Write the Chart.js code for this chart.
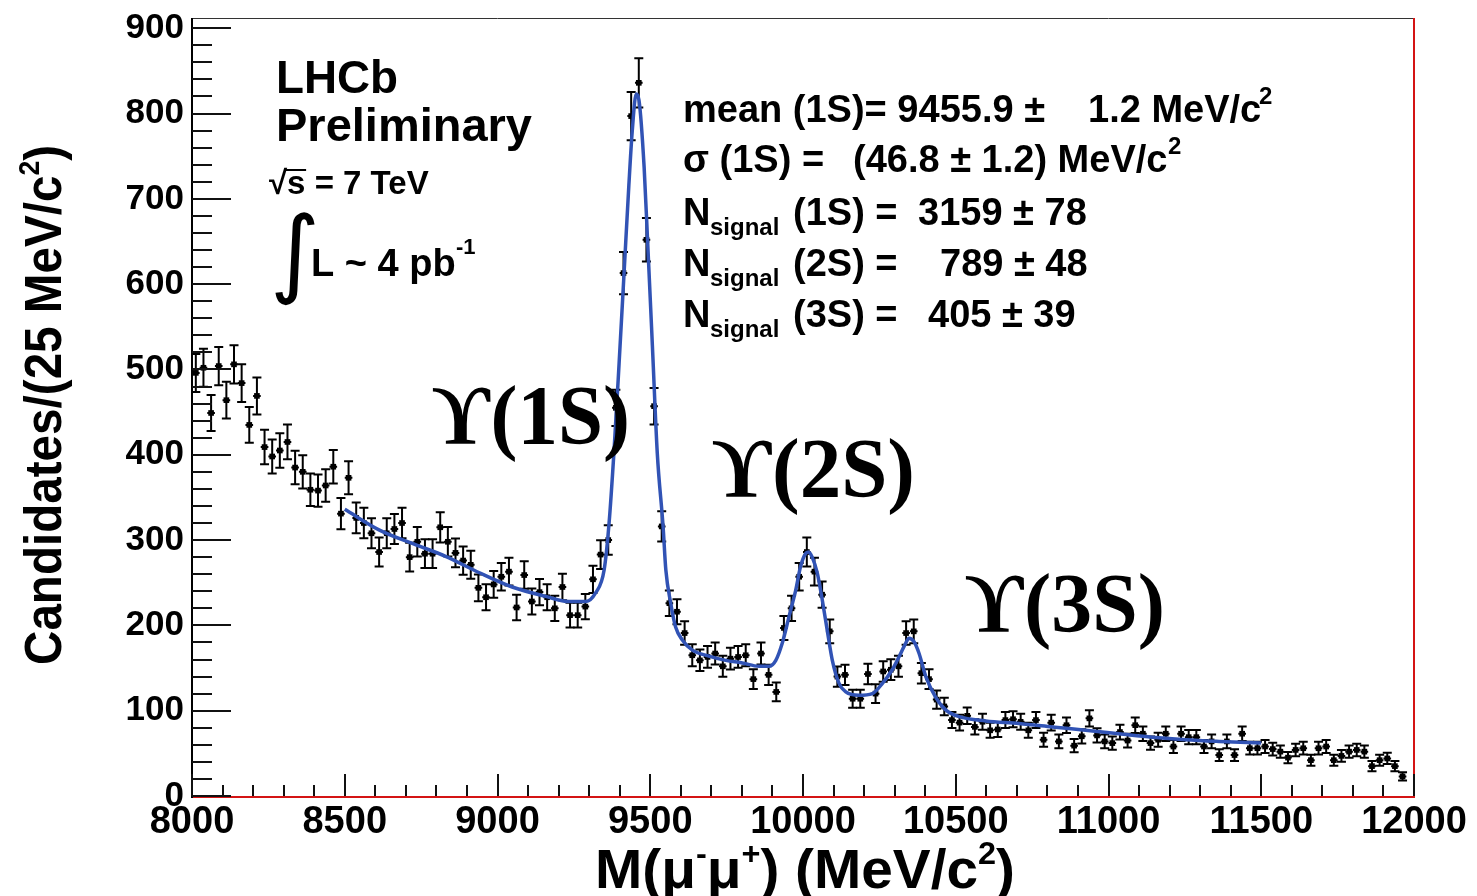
<!DOCTYPE html>
<html><head><meta charset="utf-8">
<script src="https://cdn.jsdelivr.net/npm/chart.js@4.4.1/dist/chart.umd.min.js"></script>
<style>html,body{margin:0;padding:0;background:#fff;}canvas{display:block;}</style>
</head><body>
<canvas id="c" width="1477" height="896"></canvas>
<script>
// ---- data ----
const BIN_START = 8000;
const BIN_WIDTH = 25;
// candidates per 25 MeV bin, bins from 8000 to 12000 MeV
const counts = [
 496,502,449,504,464,506,484,435,469,409,
 398,405,415,385,380,359,358,364,386,331,
 373,326,320,308,286,308,313,320,280,298,
 284,284,315,298,285,276,271,244,233,248,
 257,263,221,259,228,239,233,220,245,212,
 212,222,254,283,300,455,613,797,836,652,
 457,316,226,216,191,165,159,163,167,152,
 161,163,165,137,167,142,122,197,220,257,
 286,263,236,193,140,142,114,114,143,120,
 146,148,152,191,193,144,137,113,105,89,
 86,94,81,87,77,78,89,90,87,77,
 89,66,86,64,83,59,70,91,71,64,
 62,75,65,83,73,62,66,73,58,73,
 69,69,58,64,48,64,48,73,56,56,
 58,55,52,45,54,56,42,56,58,42,
 47,52,54,52,35,42,44,35,23,null
];
const binCenters = counts.map((_, i) => BIN_START + BIN_WIDTH * (i + 0.5));

// fitted curve, read at selected masses
const fitMass = [8500,8612,8721,8830,8939,9048,9158,9234,9289,9321,9349,9365,9381,9398,9414,9430,9441,9454,9463,9480,9491,9507,9523,9542,9551,9567,9583,9605,9638,9692,9747,9801,9856,9889,9911,9932,9954,9976,9992,10008,10018,10030,10047,10063,10079,10096,10118,10140,10183,10227,10260,10292,10314,10336,10347,10363,10380,10402,10434,10467,10511,10598,10707,10816,10925,11034,11143,11253,11362,11500];
const fitValue = [336,312,296,281,262,245,234,228,228,238,265,319,402,507,611,716,779,823,816,737,653,528,402,316,265,226,198,183,171,164,159,156,152,152,159,179,210,241,269,284,286,280,261,230,195,159,132,122,118,120,132,148,163,179,185,181,167,140,116,101,93,88,85,81,77,73,69,66,64,62];

const xTickLabels = [8000,8500,9000,9500,10000,10500,11000,11500,12000];
const yTickLabels = [0,100,200,300,400,500,600,700,800,900];

const SANS = '"Liberation Sans",Arial,Helvetica,sans-serif';
const SERIF = '"Liberation Serif","DejaVu Serif","Times New Roman",serif';

function rich(ctx, segs, x, y, target) {
  let w = 0;
  const ws = segs.map(s => { ctx.font = s[1]; const m = ctx.measureText(s[0]).width; w += m; return m; });
  const k = target ? target / w : 1;
  ctx.save(); ctx.translate(x, y); ctx.scale(k, 1);
  let cx = 0;
  segs.forEach((s, i) => { ctx.font = s[1]; ctx.fillText(s[0], cx, s[2] || 0); cx += ws[i]; });
  ctx.restore();
}

const decor = {
  id: 'decor',
  beforeDatasetsDraw(chart) {
    const ctx = chart.ctx, xs = chart.scales.x, ys = chart.scales.y;
    ctx.save();
    ctx.strokeStyle = '#000'; ctx.lineWidth = 2;
    binCenters.forEach((m, i) => {
      const v = counts[i]; if (v == null) return;
      const e = Math.sqrt(v);
      const px = xs.getPixelForValue(m);
      const py = ys.getPixelForValue(v);
      const pt = ys.getPixelForValue(v + e), pb = ys.getPixelForValue(v - e);
      const pl = xs.getPixelForValue(m - BIN_WIDTH / 2), pr = xs.getPixelForValue(m + BIN_WIDTH / 2);
      ctx.beginPath();
      ctx.moveTo(px, pt); ctx.lineTo(px, pb);
      ctx.moveTo(px - 4.5, pt); ctx.lineTo(px + 4.5, pt);
      ctx.moveTo(px - 4.5, pb); ctx.lineTo(px + 4.5, pb);
      ctx.moveTo(pl, py); ctx.lineTo(pr, py);
      ctx.stroke();
    });
    ctx.restore();
  },
  afterDatasetsDraw(chart) {
    const ctx = chart.ctx, xs = chart.scales.x, ys = chart.scales.y;
    const { left, right, top, bottom } = chart.chartArea;
    ctx.save();
    ctx.lineWidth = 1; ctx.strokeStyle = '#333';
    ctx.beginPath(); ctx.moveTo(left, top + 0.5); ctx.lineTo(right, top + 0.5); ctx.stroke();
    ctx.lineWidth = 2; ctx.strokeStyle = '#d41414';
    ctx.beginPath(); ctx.moveTo(right, top); ctx.lineTo(right, bottom + 1); ctx.lineTo(left, bottom + 1); ctx.stroke();
    ctx.strokeStyle = '#000';
    ctx.beginPath(); ctx.moveTo(left, top); ctx.lineTo(left, bottom + 2); ctx.stroke();
    ctx.lineWidth = 2; ctx.strokeStyle = '#111';
    ctx.beginPath();
    for (let v = 0; v <= 900; v += 20) {
      const py = Math.round(ys.getPixelForValue(v));
      const len = (v % 100 === 0) ? 39 : 20;
      ctx.moveTo(left, py); ctx.lineTo(left + len, py);
    }
    for (let m = 8000; m <= 12000; m += 100) {
      const px = Math.round(xs.getPixelForValue(m));
      const len = (m % 500 === 0) ? 22 : 11;
      ctx.moveTo(px, bottom); ctx.lineTo(px, bottom - len);
    }
    ctx.stroke();
    ctx.restore();
  },
  afterDraw(chart) {
    const ctx = chart.ctx;
    ctx.save();
    ctx.fillStyle = '#000';
    ctx.textBaseline = 'alphabetic'; ctx.textAlign = 'left';
    // axis titles
    const ft = 'bold 56px ' + SANS, fs = 'bold 32px ' + SANS;
    rich(ctx, [['M(\u03bc', ft], ['-', fs, -24], ['\u03bc', ft], ['+', fs, -24], [') (MeV/c', ft], ['2', fs, -24], [')', ft]], 595, 888, 420);
    ctx.save(); ctx.translate(61, 665); ctx.rotate(-Math.PI / 2);
    const fy = 'bold 52px ' + SANS, fys = 'bold 29px ' + SANS;
    rich(ctx, [['Candidates/(25 MeV/c', fy], ['2', fys, -22], [')', fy]], 0, 0, 520);
    ctx.restore();
    // LHCb block
    rich(ctx, [['LHCb', 'bold 46px ' + SANS]], 276, 93, 122);
    rich(ctx, [['Preliminary', 'bold 46px ' + SANS]], 276, 141, 256);
    ctx.font = 'bold 33px ' + SANS;
    ctx.fillText('\u221a', 269, 194);
    const sqW = ctx.measureText('\u221a').width;
    ctx.fillText('s = 7 TeV', 269 + sqW, 194);
    ctx.lineWidth = 2; ctx.strokeStyle = '#000';
    ctx.beginPath(); ctx.moveTo(269 + sqW - 2, 170); ctx.lineTo(269 + sqW + 19, 170); ctx.stroke();
    ctx.font = '96px "DejaVu Sans",sans-serif';
    ctx.fillText('\u222b', 270, 285);
    ctx.font = 'bold 38px ' + SANS;
    ctx.fillText('L ~ 4 pb', 311, 276);
    ctx.font = 'bold 22px ' + SANS;
    ctx.fillText('-1', 456, 254);
    // fit results
    const F = 'bold 38px ' + SANS, S = 'bold 24px ' + SANS;
    ctx.font = F;
    ctx.fillText('mean (1S)= 9455.9 \u00b1', 683, 122);
    ctx.fillText('1.2 MeV/c', 1088, 122);
    ctx.font = S; ctx.fillText('2', 1259, 104);
    ctx.font = F;
    ctx.fillText('\u03c3 (1S) =', 683, 172);
    ctx.fillText('(46.8 \u00b1 1.2) MeV/c', 853, 172);
    ctx.font = S; ctx.fillText('2', 1168, 154);
    const rows = [['(1S) =', '3159 \u00b1 78', 918, 225], ['(2S) =', '789 \u00b1 48', 940, 276], ['(3S) =', '405 \u00b1 39', 928, 327]];
    rows.forEach(r => {
      ctx.font = F; ctx.fillText('N', 683, r[3]);
      ctx.font = S; ctx.fillText('signal', 710, r[3] + 10);
      ctx.font = F; ctx.fillText(r[0], 793, r[3]);
      ctx.fillText(r[1], r[2], r[3]);
    });
    // peak labels
    const U = 'bold 84px ' + SERIF;
    rich(ctx, [['\u03d2', U], ['(1S)', U]], 432, 444, 198);
    rich(ctx, [['\u03d2', U], ['(2S)', U]], 712, 497, 203);
    rich(ctx, [['\u03d2', U], ['(3S)', U]], 965, 632, 200);
    ctx.restore();
  }
};

const points = [];
binCenters.forEach((m, i) => { if (counts[i] != null) points.push({ x: m, y: counts[i] }); });
const fitPts = fitMass.map((m, i) => ({ x: m, y: fitValue[i] }));

new Chart(document.getElementById('c').getContext('2d'), {
  type: 'scatter',
  data: {
    datasets: [
      { type: 'line', data: fitPts, borderColor: '#3153b5', borderWidth: 3.5, pointRadius: 0,
        cubicInterpolationMode: 'monotone', fill: false, order: 0 },
      { type: 'scatter', data: points, pointStyle: 'rect', pointRadius: 4, backgroundColor: '#000',
        borderColor: '#000', borderWidth: 0, order: 1 }
    ]
  },
  options: {
    responsive: false, animation: false, devicePixelRatio: 1,
    layout: { padding: { left: 0, right: 63, top: 18, bottom: 0 } },
    plugins: { legend: { display: false }, tooltip: { enabled: false } },
    events: [],
    scales: {
      x: {
        type: 'linear', min: 8000, max: 12000,
        afterBuildTicks: s => { s.ticks = xTickLabels.map(v => ({ value: v })); },
        afterFit: s => { s.height = 100; s.paddingLeft = 0; s.paddingRight = 0; },
        grid: { display: false, drawTicks: false }, border: { display: false },
        ticks: { color: '#000', font: { family: SANS, size: 38, weight: 'bold' }, maxRotation: 0,
                 autoSkip: false, padding: 4, callback: v => String(v) }
      },
      y: {
        type: 'linear', min: 0, max: 912,
        afterBuildTicks: s => { s.ticks = yTickLabels.map(v => ({ value: v })); },
        afterFit: s => { s.width = 192; s.paddingTop = 0; s.paddingBottom = 0; },
        grid: { display: false, drawTicks: false }, border: { display: false },
        ticks: { color: '#000', font: { family: SANS, size: 35, weight: 'bold' }, padding: 8,
                 autoSkip: false, callback: v => String(v) }
      }
    }
  },
  plugins: [decor]
});
</script>
</body></html>
